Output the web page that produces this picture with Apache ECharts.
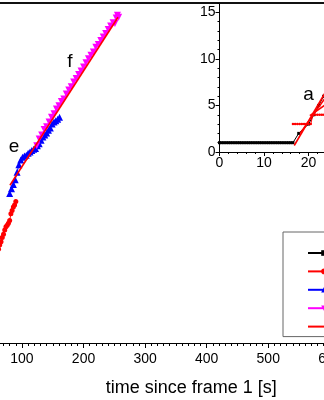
<!DOCTYPE html>
<html>
<head>
<meta charset="utf-8">
<script src="https://cdn.jsdelivr.net/npm/echarts@6/dist/echarts.min.js"></script>
<style>
  html, body { margin: 0; padding: 0; background: #fff; }
  #chart { width: 324px; height: 400px; }
</style>
</head>
<body>
<div id="chart"></div>
<script>
// Growth of tracked regions over time, with linear fits.
// Main panel: time since frame 1 [s]; inset: first seconds of the track.

const FONT = '"Liberation Sans", Arial, Helvetica, sans-serif';

// main panel, x axis range and step
const mainXMin = 0, mainXMax = 750, mainXStep = 100;
const mainYMin = 0, mainYMax = 50;

// inset axis ranges and tick values
const insetXMin = 0, insetXMax = 30, insetXStep = 10;
const insetYMin = 0, insetYMax = 16, insetYStep = 5;

// region b (red circles)
const redTime = [56, 58, 60, 62, 64, 66, 68, 70, 72, 74, 76, 78, 80, 82, 84, 86, 88, 90];
const redSize = [12.2, 12.8, 13.3, 13.8, 14.4, 14.9, 15.5, 16.0, 16.6, 17.1, 17.3, 17.6, 18.0, 19.0, 19.5, 20.0, 20.3, 20.8];

// region e (blue triangles)
const blueTime = [80, 83, 86, 89, 92, 95, 98, 101, 104, 107, 110, 113, 116, 119, 122, 125, 128, 131, 134, 137, 140, 143, 146, 149, 152, 155, 158, 161];
const blueSize = [22.0, 22.7, 23.3, 24.0, 25.1, 26.2, 26.9, 27.3, 27.5, 27.6, 27.9, 28.1, 28.3, 28.5, 28.6, 29.0, 29.3, 29.8, 30.3, 30.6, 30.9, 31.3, 31.6, 32.2, 32.5, 32.7, 32.9, 33.2];

// region f (magenta down-triangles)
const pinkTime = [124, 128, 132, 136, 140, 144, 148, 152, 156, 160, 164, 168, 172, 176, 180, 184, 188, 192, 196, 200, 204, 208, 212, 216, 220, 224, 228, 232, 236, 240, 244, 248, 251, 253, 255, 257];
const pinkSize = [29.0, 30.0, 30.6, 31.4, 31.8, 32.5, 33.2, 33.7, 34.4, 34.9, 35.5, 35.9, 36.6, 37.2, 37.7, 38.4, 38.9, 39.5, 40.0, 40.6, 41.2, 41.8, 42.3, 42.8, 43.5, 43.9, 44.5, 45.0, 45.5, 46.1, 46.6, 47.1, 47.0, 47.8, 48.2, 47.9];

// linear fit through e and f
const fitTime = [80.5, 256];
const fitSize = [23.2, 47.9];

// inset: region a (black squares)
const insetBlackTime = [0, 0.5, 1, 1.5, 2, 2.5, 3, 3.5, 4, 4.5, 5, 5.5, 6, 6.5, 7, 7.5, 8, 8.5, 9, 9.5, 10, 10.5, 11, 11.5, 12, 12.5, 13, 13.5, 14, 14.5, 15, 15.5, 16, 16.5, 17.8, 20.0, 21.2, 22.3, 23.4, 24.5];
const insetBlackSize = [1, 1, 1, 1, 1, 1, 1, 1, 1, 1, 1, 1, 1, 1, 1, 1, 1, 1, 1, 1, 1, 1, 1, 1, 1, 1, 1, 1, 1, 1, 1, 1, 1, 1, 2, 3, 4, 5, 6, 7];

// inset: region b (red circles)
const insetRedTime = [16.5, 17, 17.5, 18, 18.5, 19, 19.5, 20, 20.5, 21, 21.5, 22, 22.5, 23, 23.5, 24, 24.5, 25];
const insetRedSize = [3, 3, 3, 3, 3, 3, 3, 3, 3, 4, 4, 4, 4, 4, 4, 4, 4, 4];

// inset: linear fits of the onset
const insetFitTime = [[16.8, 24.5], [18.1, 24.5], [20.3, 24.5]];
const insetFitSize = [[0.7, 7.0], [2.0, 6.3], [3.9, 5.3]];

// legend entries
const legendNames = ['a', 'b', 'e', 'f', 'fit'];

const pts = (xs, ys) => xs.map((x, i) => [x, ys[i]]);

const chart = echarts.init(document.getElementById('chart'), null, { renderer: 'canvas' });

const axisColor = '#000';
const labelStyle = { color: '#000', fontFamily: FONT };

const mainSeries = (name, xs, ys, color, symbol, size, extra) => Object.assign({
  name, type: 'line', xAxisIndex: 0, yAxisIndex: 0,
  data: pts(xs, ys),
  symbol, symbolSize: size, showSymbol: true,
  itemStyle: { color },
  lineStyle: { color, width: 1 },
  emphasis: { disabled: true },
  z: 3
}, extra || {});

const insetSeries = (name, xs, ys, color, symbol, size, extra) => Object.assign({
  name, type: 'line', xAxisIndex: 2, yAxisIndex: 1,
  data: pts(xs, ys),
  symbol, symbolSize: size, showSymbol: true,
  itemStyle: { color },
  lineStyle: { color, width: 1 },
  emphasis: { disabled: true },
  z: 6
}, extra || {});

const series = [
  insetSeries('a', insetBlackTime, insetBlackSize, '#000000', 'rect', 3),
  mainSeries('b', redTime, redSize, '#ff0000', 'circle', 5),
  mainSeries('e', blueTime, blueSize, '#0000ff', 'triangle', 7),
  mainSeries('f', pinkTime, pinkSize, '#ff00ff', 'triangle', 7, { symbolRotate: 180 }),
  mainSeries('fit', fitTime, fitSize, '#ff0000', 'none', 0, { lineStyle: { color: '#ff0000', width: 1.6 }, z: 4 }),
  insetSeries('b', insetRedTime, insetRedSize, '#ff0000', 'circle', 2.5)
];
insetFitTime.forEach((xs, i) => {
  series.push(insetSeries('fit', xs, insetFitSize[i], '#ff0000', 'none', 0,
    { lineStyle: { color: '#ff0000', width: 1.6 }, z: 7 }));
});

const option = {
  animation: false,
  backgroundColor: '#ffffff',
  textStyle: { fontFamily: FONT },
  grid: [
    { left: -39.6, top: 3, width: 461.8, height: 340, containLabel: false, outerBoundsMode: 'none' },
    { left: 219.5, top: 3, width: 133.5, height: 149, containLabel: false, outerBoundsMode: 'none' }
  ],
  xAxis: [
    {
      gridIndex: 0, type: 'value', position: 'bottom',
      min: mainXMin, max: mainXMax, interval: mainXStep,
      axisLine: { onZero: false, lineStyle: { color: axisColor, width: 1 } },
      axisTick: { show: true, inside: false, length: 5, lineStyle: { color: axisColor } },
      minorTick: { show: true, splitNumber: 10, length: 3, lineStyle: { color: axisColor } },
      splitLine: { show: false },
      axisLabel: Object.assign({ fontSize: 14, margin: 9, showMaxLabel: false }, labelStyle),
      name: 'time since frame 1 [s]', nameLocation: 'middle', nameGap: 36,
      nameTextStyle: { fontSize: 18, color: '#000', fontFamily: FONT }
    },
    {
      gridIndex: 0, type: 'value', position: 'top',
      min: mainXMin, max: mainXMax,
      axisLine: { onZero: false, lineStyle: { color: '#111', width: 2 } },
      axisTick: { show: false }, axisLabel: { show: false }, splitLine: { show: false }
    },
    {
      gridIndex: 1, type: 'value', position: 'bottom',
      min: insetXMin, max: insetXMax, interval: insetXStep,
      axisLine: { onZero: false, lineStyle: { color: axisColor, width: 1 } },
      axisTick: { show: true, inside: false, length: 4, lineStyle: { color: axisColor } },
      minorTick: { show: true, splitNumber: 5, length: 2, lineStyle: { color: axisColor } },
      splitLine: { show: false },
      axisLabel: Object.assign({ fontSize: 14, margin: 4 }, labelStyle)
    }
  ],
  yAxis: [
    {
      gridIndex: 0, type: 'value', position: 'left', min: mainYMin, max: mainYMax,
      axisLine: { onZero: false, lineStyle: { color: axisColor } },
      axisTick: { show: true }, splitLine: { show: false },
      axisLabel: Object.assign({ fontSize: 14 }, labelStyle)
    },
    {
      gridIndex: 1, type: 'value', position: 'left', min: insetYMin, max: insetYMax, interval: 1,
      axisLine: { onZero: false, lineStyle: { color: axisColor, width: 1 } },
      axisTick: { show: true, inside: false, length: 2, lineStyle: { color: axisColor } },
      axisLabel: { show: false }, splitLine: { show: false }
    },
    {
      gridIndex: 1, type: 'value', position: 'left', offset: 0,
      min: insetYMin, max: insetYMax, interval: insetYStep,
      axisLine: { show: false, onZero: false },
      axisTick: { show: true, inside: false, length: 4, lineStyle: { color: axisColor } },
      axisLabel: Object.assign({ fontSize: 14, margin: 4, showMaxLabel: false }, labelStyle),
      splitLine: { show: false }
    }
  ],
  legend: {
    orient: 'vertical', left: 283, top: 232, align: 'left',
    itemWidth: 32, itemHeight: 7, itemGap: 4.4,
    padding: [14, 10, 3, 24],
    borderColor: '#666', borderWidth: 1,
    selectedMode: false,
    textStyle: { fontSize: 12, lineHeight: 14, color: '#000', fontFamily: FONT },
    data: legendNames.map(n => n === 'fit' ? { name: n, icon: 'path://M0,0H32V2H0Z' } : n)
  },
  graphic: [
    { type: 'text', x: 308.5, y: 95, z: 10, style: { text: 'a', font: '19px ' + FONT, fill: '#000', align: 'center', verticalAlign: 'middle' } },
    { type: 'text', x: 14, y: 146.5, z: 10, style: { text: 'e', font: '19px ' + FONT, fill: '#000', align: 'center', verticalAlign: 'middle' } },
    { type: 'text', x: 70, y: 61.5, z: 10, style: { text: 'f', font: '19px ' + FONT, fill: '#000', align: 'center', verticalAlign: 'middle' } }
  ],
  series
};

chart.setOption(option);
</script>
</body>
</html>
